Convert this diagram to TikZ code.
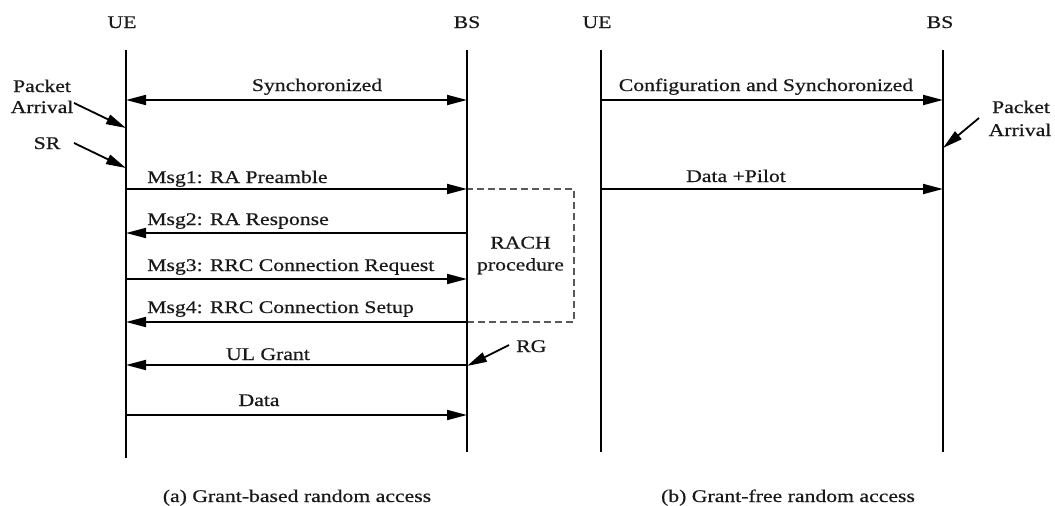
\documentclass[tikz,border=0pt]{standalone}
\usepackage{fontspec}
\setmainfont[FakeStretch=1.22,FakeBold=0.6]{Liberation Serif}
\usetikzlibrary{arrows.meta}
\begin{document}
\begin{tikzpicture}[x=1pt,y=-1pt,
  txt/.style={font=\fontsize{17.8}{22}\selectfont, inner sep=0pt, text=black!90},
  life/.style={line width=1.8pt},
  sig/.style={line width=1.8pt, -{Triangle[length=20pt,width=10pt]}},
  sigboth/.style={line width=1.8pt, {Triangle[length=20pt,width=10pt]}-{Triangle[length=20pt,width=10pt]}},
  rachbox/.style={draw=black!65, dash pattern=on 7pt off 4pt, line width=1.3pt,
    minimum width=107pt, minimum height=133pt, inner sep=0pt, align=center,
    font=\fontsize{17.8}{22}\selectfont, text=black!90}]
\useasboundingbox (0,0) rectangle (1055,506);

% lifeline positions
\def\xUa{126} \def\xBa{467} \def\xUb{601} \def\xBb{943}

% ---------- (a) grant-based ----------
\node[txt,anchor=base] (hUa) at (122,28) {UE};
\node[txt,anchor=base] (hBa) at (467,28) {BS};

% RACH procedure box (drawn before the lifeline)
\node[rachbox] (rach) at (520.5,255.5) {RACH\\procedure};

\coordinate (ua0) at (\xUa,50);  \coordinate (ua1) at (\xUa,458);
\coordinate (ba0) at (\xBa,50);  \coordinate (ba1) at (\xBa,452);
\draw[life] (ua0) -- (ua1);
\draw[life] (ba0) -- (ba1);

% synchronisation
\coordinate (syU) at (\xUa,100); \coordinate (syB) at (\xBa,100);
\draw[sigboth] (syU) -- (syB);
\node[txt,anchor=base] (syL) at (317,91) {Synchoronized};

% packet arrival and scheduling request
\node[txt,anchor=base] (paA1) at (42,92) {Packet};
\node[txt,anchor=base] (paA2) at (42,113) {Arrival};
\coordinate (paAs) at (74,103); \coordinate (paAe) at (\xUa,128);
\draw[sig] (paAs) -- (paAe);
\node[txt,anchor=base] (sr) at (47,149) {SR};
\coordinate (srs) at (74,143); \coordinate (sre) at (\xUa,168);
\draw[sig] (srs) -- (sre);

% four-step RACH messages
\coordinate (m1U) at (\xUa,189); \coordinate (m1B) at (\xBa,189);
\draw[sig] (m1U) -- (m1B);
\node[txt,anchor=base west] (m1L) at (147,183) {Msg1: RA Preamble};

\coordinate (m2U) at (\xUa,233); \coordinate (m2B) at (\xBa,233);
\draw[sig] (m2B) -- (m2U);
\node[txt,anchor=base west] (m2L) at (147,225) {Msg2: RA Response};

\coordinate (m3U) at (\xUa,279); \coordinate (m3B) at (\xBa,279);
\draw[sig] (m3U) -- (m3B);
\node[txt,anchor=base west] (m3L) at (147,271) {Msg3: RRC Connection Request};

\coordinate (m4U) at (\xUa,322); \coordinate (m4B) at (\xBa,322);
\draw[sig] (m4B) -- (m4U);
\node[txt,anchor=base west] (m4L) at (147,313) {Msg4: RRC Connection Setup};

% uplink grant
\coordinate (ulU) at (\xUa,365); \coordinate (ulB) at (\xBa,365);
\draw[sig] (ulB) -- (ulU);
\node[txt,anchor=base] (ulL) at (268,360) {UL Grant};
\node[txt,anchor=base west] (rg) at (516,352) {RG};
\coordinate (rgs) at (509,345); \coordinate (rge) at (\xBa,366);
\draw[sig] (rgs) -- (rge);

% data
\coordinate (daU) at (\xUa,415); \coordinate (daB) at (\xBa,415);
\draw[sig] (daU) -- (daB);
\node[txt,anchor=base] (daL) at (259,406) {Data};

\node[txt,anchor=base] (capA) at (297,502) {(a) Grant-based random access};

% ---------- (b) grant-free ----------
\node[txt,anchor=base] (hUb) at (597,28) {UE};
\node[txt,anchor=base] (hBb) at (940,28) {BS};
\coordinate (ub0) at (\xUb,50);  \coordinate (ub1) at (\xUb,452);
\coordinate (bb0) at (\xBb,50);  \coordinate (bb1) at (\xBb,452);
\draw[life] (ub0) -- (ub1);
\draw[life] (bb0) -- (bb1);

\coordinate (cfU) at (\xUb,100); \coordinate (cfB) at (\xBb,100);
\draw[sig] (cfU) -- (cfB);
\node[txt,anchor=base] (cfL) at (766,91) {Configuration and Synchoronized};

\node[txt,anchor=base] (paB1) at (1021,113) {Packet};
\node[txt,anchor=base] (paB2) at (1020,136) {Arrival};
\coordinate (paBs) at (979,118); \coordinate (paBe) at (\xBb,148);
\draw[sig] (paBs) -- (paBe);

\coordinate (dpU) at (\xUb,189); \coordinate (dpB) at (\xBb,189);
\draw[sig] (dpU) -- (dpB);
\node[txt,anchor=base] (dpL) at (736,182) {Data +Pilot};

\node[txt,anchor=base] (capB) at (788,502) {(b) Grant-free random access};
\end{tikzpicture}
\end{document}
